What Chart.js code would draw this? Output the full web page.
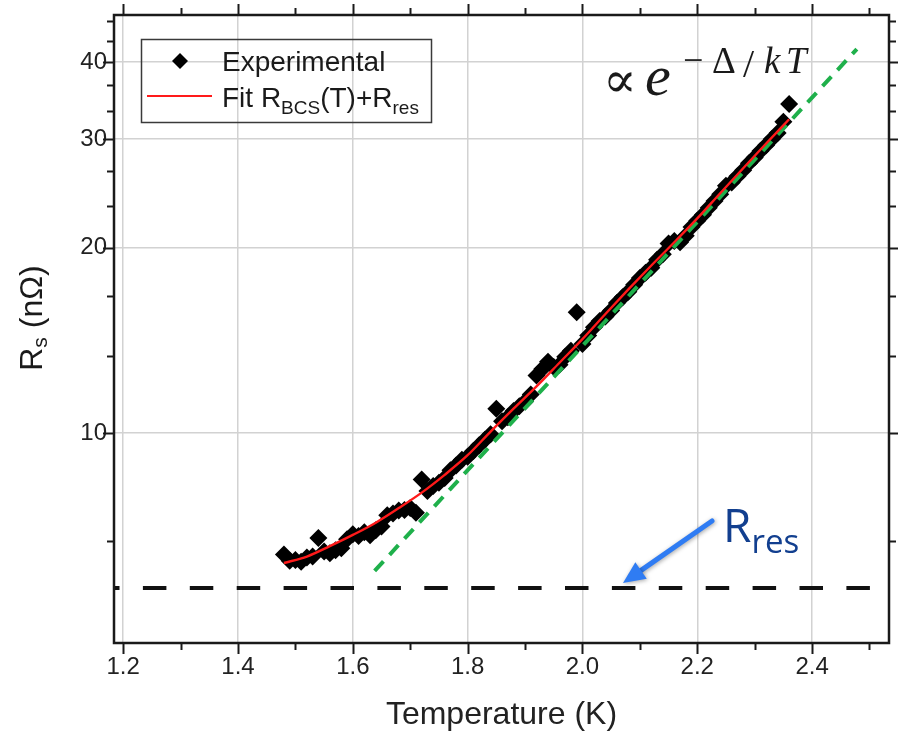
<!DOCTYPE html>
<html>
<head>
<meta charset="utf-8">
<script src="https://cdn.jsdelivr.net/npm/chart.js@4.4.1/dist/chart.umd.min.js"></script>
<style>
  html, body { margin: 0; padding: 0; background: #fff; }
</style>
</head>
<body>
<canvas id="rsChart" width="898" height="740"></canvas>
<script>
// measured surface resistance vs temperature
const expT = [1.48, 1.49, 1.50, 1.51, 1.52, 1.53, 1.54, 1.55, 1.56, 1.57,
  1.58, 1.59, 1.60, 1.61, 1.62, 1.63, 1.64, 1.65, 1.66, 1.67,
  1.68, 1.69, 1.70, 1.71, 1.72, 1.73, 1.74, 1.75, 1.76, 1.77,
  1.78, 1.79, 1.80, 1.81, 1.82, 1.83, 1.84, 1.85, 1.86, 1.87,
  1.88, 1.89, 1.90, 1.91, 1.92, 1.93, 1.94, 1.95, 1.96, 1.97,
  1.98, 1.99, 2.00, 2.01, 2.02, 2.03, 2.04, 2.05, 2.06, 2.07,
  2.08, 2.09, 2.10, 2.11, 2.12, 2.13, 2.14, 2.15, 2.16, 2.17,
  2.18, 2.19, 2.20, 2.21, 2.22, 2.23, 2.24, 2.25, 2.26, 2.27,
  2.28, 2.29, 2.30, 2.31, 2.32, 2.33, 2.34, 2.35, 2.36];
const expRs = [6.35, 6.20, 6.22, 6.18, 6.28, 6.30, 6.75, 6.42, 6.38, 6.45,
  6.50, 6.72, 6.85, 6.80, 6.90, 6.82, 6.95, 7.05, 7.35, 7.40,
  7.48, 7.50, 7.55, 7.42, 8.40, 8.05, 8.20, 8.30, 8.45, 8.70,
  8.85, 9.05, 9.15, 9.35, 9.55, 9.75, 9.95, 10.95, 10.45, 10.60,
  10.85, 11.05, 11.25, 11.55, 12.40, 12.70, 13.05, 12.80, 12.90, 13.30,
  13.60, 15.70, 13.95, 14.40, 14.85, 15.20, 15.45, 15.80, 16.25, 16.60,
  16.95, 17.40, 17.85, 18.20, 18.55, 19.10, 19.50, 20.30, 20.50, 20.40,
  20.90, 21.60, 22.10, 22.60, 23.20, 23.80, 24.40, 25.20, 25.50, 26.10,
  26.70, 27.40, 28.00, 28.70, 29.30, 30.00, 30.70, 32.00, 34.20];

// fit R_BCS(T) + R_res
const fitT = [1.48, 1.52, 1.56, 1.60, 1.64, 1.68, 1.72, 1.76, 1.80, 1.84, 1.88, 1.92,
  1.96, 2.00, 2.04, 2.08, 2.12, 2.16, 2.20, 2.24, 2.28, 2.32, 2.36];
const fitRs = [6.15, 6.30, 6.55, 6.83, 7.15, 7.55, 8.00, 8.55, 9.20, 10.05, 10.95, 11.90,
  13.00, 14.20, 15.60, 17.10, 18.70, 20.40, 22.30, 24.50, 26.90, 29.50, 32.30];

// exponential guide and residual resistance level
const slopeT = [1.638, 2.478];
const slopeRs = [5.97, 42.0];
const resT = [1.184, 2.534];
const resRs = [5.6, 5.6];

const xTicks = [1.2, 1.4, 1.6, 1.8, 2.0, 2.2, 2.4];
const xMinor = [1.3, 1.5, 1.7, 1.9, 2.1, 2.3, 2.5];
const yTicks = [10, 20, 30, 40];
const yMinor = [6.667, 13.333, 16.667, 23.333, 26.667, 33.333, 36.667, 43.333, 46.667];

const pts = (xs, ys) => xs.map((v, i) => ({ x: v, y: ys[i] }));
const SANS = '"Liberation Sans", Arial, sans-serif';

// frame with ticks on all four sides
const framePlugin = {
  id: 'frame',
  afterDraw(chart) {
    const { ctx, chartArea: a, scales: { x, y } } = chart;
    ctx.save();
    ctx.strokeStyle = '#1a1a1a';
    ctx.lineWidth = 2;
    const seg = (x1, y1, x2, y2) => { ctx.beginPath(); ctx.moveTo(x1, y1); ctx.lineTo(x2, y2); ctx.stroke(); };
    const xt = (vals, len) => vals.forEach(v => {
      const p = Math.round(x.getPixelForValue(v)) + 0.5;
      if (p < a.left || p > a.right) return;
      seg(p, a.bottom, p, a.bottom + len);
      seg(p, a.top, p, a.top - len);
    });
    const yt = (vals, len) => vals.forEach(v => {
      const p = Math.round(y.getPixelForValue(v)) + 0.5;
      if (p < a.top || p > a.bottom) return;
      seg(a.left, p, a.left - len, p);
      seg(a.right, p, a.right + len, p);
    });
    xt(xTicks, 11); xt(xMinor, 7);
    yt(yTicks, 11); yt(yMinor, 7);
    ctx.lineWidth = 2.5;
    ctx.strokeRect(a.left, a.top, a.width, a.height);
    ctx.restore();
  }
};

// legend, axis label with subscript and text annotations
const notesPlugin = {
  id: 'notes',
  afterDraw(chart) {
    const ctx = chart.ctx;
    ctx.save();
    const put = (txt, x0, base, font) => { ctx.font = font; ctx.fillText(txt, x0, base); return x0 + ctx.measureText(txt).width; };

    // legend
    ctx.lineWidth = 1.5;
    ctx.strokeStyle = '#3a3a3a';
    ctx.strokeRect(141.5, 39.5, 290, 83);
    ctx.fillStyle = '#000';
    ctx.beginPath();
    ctx.moveTo(180, 53); ctx.lineTo(188, 61); ctx.lineTo(180, 69); ctx.lineTo(172, 61);
    ctx.closePath(); ctx.fill();
    ctx.strokeStyle = '#ff1a1a'; ctx.lineWidth = 2;
    ctx.beginPath(); ctx.moveTo(147, 96); ctx.lineTo(212, 96); ctx.stroke();
    ctx.fillStyle = '#1a1a1a';
    put('Experimental', 222, 71, '28px ' + SANS);
    let cx = put('Fit R', 222, 107, '28px ' + SANS);
    cx = put('BCS', cx, 114, '19px ' + SANS);
    cx = put('(T)+R', cx, 107, '28px ' + SANS);
    put('res', cx, 114, '19px ' + SANS);

    // y axis title
    ctx.save();
    ctx.translate(0, 318);
    ctx.rotate(-Math.PI / 2);
    ctx.font = '32px ' + SANS;
    const w1 = ctx.measureText('R').width;
    ctx.font = '21px ' + SANS;
    const w2 = ctx.measureText('s').width;
    ctx.font = '32px ' + SANS;
    const w3 = ctx.measureText(' (n\u03A9)').width;
    let ux = -(w1 + w2 + w3) / 2;
    ux = put('R', ux, 42, '32px ' + SANS);
    ux = put('s', ux, 47, '21px ' + SANS);
    put(' (n\u03A9)', ux, 42, '32px ' + SANS);
    ctx.restore();

    // proportional to exp(-Delta/kT)
    ctx.fillStyle = '#1a1a1a';
    put('\u221D', 603, 97, '50px "DejaVu Serif", serif');
    put('e', 645, 95, 'italic 58px "Liberation Serif", serif');
    put('\u2212', 683, 72, '36px "Liberation Serif", serif');
    put('\u0394', 712, 73, '37px "Liberation Serif", serif');
    put('/', 743, 77, '40px "Liberation Serif", serif');
    put('k', 764, 73, 'italic 37px "Liberation Serif", serif');
    put('T', 786, 73, 'italic 37px "Liberation Serif", serif');

    // R_res arrow and label
    ctx.save();
    ctx.shadowColor = 'rgba(0,0,0,0.35)';
    ctx.shadowBlur = 4;
    ctx.shadowOffsetX = 1; ctx.shadowOffsetY = 1;
    ctx.strokeStyle = '#2f7cf3';
    ctx.fillStyle = '#2f7cf3';
    ctx.lineWidth = 5;
    ctx.lineCap = 'round';
    const sx = 712, sy = 521, tx = 623, ty = 583;
    const ang = Math.atan2(ty - sy, tx - sx);
    const hl = 22, hw = 10;
    const bx = tx - hl * Math.cos(ang), by = ty - hl * Math.sin(ang);
    ctx.beginPath(); ctx.moveTo(sx, sy); ctx.lineTo(bx, by); ctx.stroke();
    ctx.beginPath();
    ctx.moveTo(tx, ty);
    ctx.lineTo(bx + hw * Math.sin(ang), by - hw * Math.cos(ang));
    ctx.lineTo(bx - hw * Math.sin(ang), by + hw * Math.cos(ang));
    ctx.closePath(); ctx.fill();
    ctx.restore();
    ctx.fillStyle = '#123f8f';
    const rx = put('R', 723, 542, '46px "Open Sans", sans-serif');
    put('res', rx, 553, '33px "Open Sans", sans-serif');
    ctx.restore();
  }
};

const ctx = document.getElementById('rsChart').getContext('2d');

new Chart(ctx, {
  type: 'scatter',
  data: {
    datasets: [{
      label: 'Fit',
      data: pts(fitT, fitRs),
      showLine: true,
      borderColor: '#ff1a1a',
      borderWidth: 2.4,
      pointRadius: 0,
      cubicInterpolationMode: 'monotone',
      order: 1
    }, {
      label: 'exp',
      data: pts(slopeT, slopeRs),
      showLine: true,
      borderColor: '#1fb04b',
      borderWidth: 4,
      borderDash: [13, 9],
      pointRadius: 0,
      order: 2
    }, {
      label: 'Experimental',
      data: pts(expT, expRs),
      pointStyle: 'rectRot',
      pointRadius: 9,
      backgroundColor: '#000',
      borderColor: '#000',
      borderWidth: 0,
      order: 3
    }, {
      label: 'Rres',
      data: pts(resT, resRs),
      showLine: true,
      borderColor: '#111',
      borderWidth: 4,
      borderDash: [23.5, 23.4],
      borderDashOffset: 18,
      pointRadius: 0,
      clip: 0,
      order: 4
    }]
  },
  options: {
    responsive: false,
    animation: false,
    layout: { padding: { top: 15, right: 9, left: 0, bottom: 0 } },
    plugins: {
      legend: { display: false },
      tooltip: { enabled: false }
    },
    scales: {
      x: {
        type: 'linear',
        min: 1.184,
        max: 2.534,
        afterBuildTicks: s => { s.ticks = xTicks.map(v => ({ value: v })); },
        afterFit: s => { s.height = 97; },
        grid: { color: '#d2d2d2', lineWidth: 1.5, drawTicks: false },
        border: { display: false },
        ticks: {
          padding: 10,
          color: '#222',
          maxRotation: 0,
          autoSkip: false,
          font: { family: SANS, size: 24 },
          callback: v => v.toFixed(1)
        },
        title: {
          display: true,
          text: 'Temperature (K)',
          color: '#222',
          font: { family: SANS, size: 32 },
          padding: { top: 0, bottom: 6 }
        }
      },
      y: {
        type: 'logarithmic',
        min: 4.56,
        max: 47.7,
        afterBuildTicks: s => { s.ticks = yTicks.map(v => ({ value: v })); },
        afterFit: s => { s.width = 114; s.paddingTop = 0; s.paddingBottom = 0; },
        grid: { color: '#d2d2d2', lineWidth: 1.5, drawTicks: false },
        border: { display: false },
        ticks: {
          padding: 7,
          color: '#222',
          autoSkip: false,
          font: { family: SANS, size: 24 },
          callback: v => String(v)
        }
      }
    }
  },
  plugins: [framePlugin, notesPlugin]
});
</script>
</body>
</html>
